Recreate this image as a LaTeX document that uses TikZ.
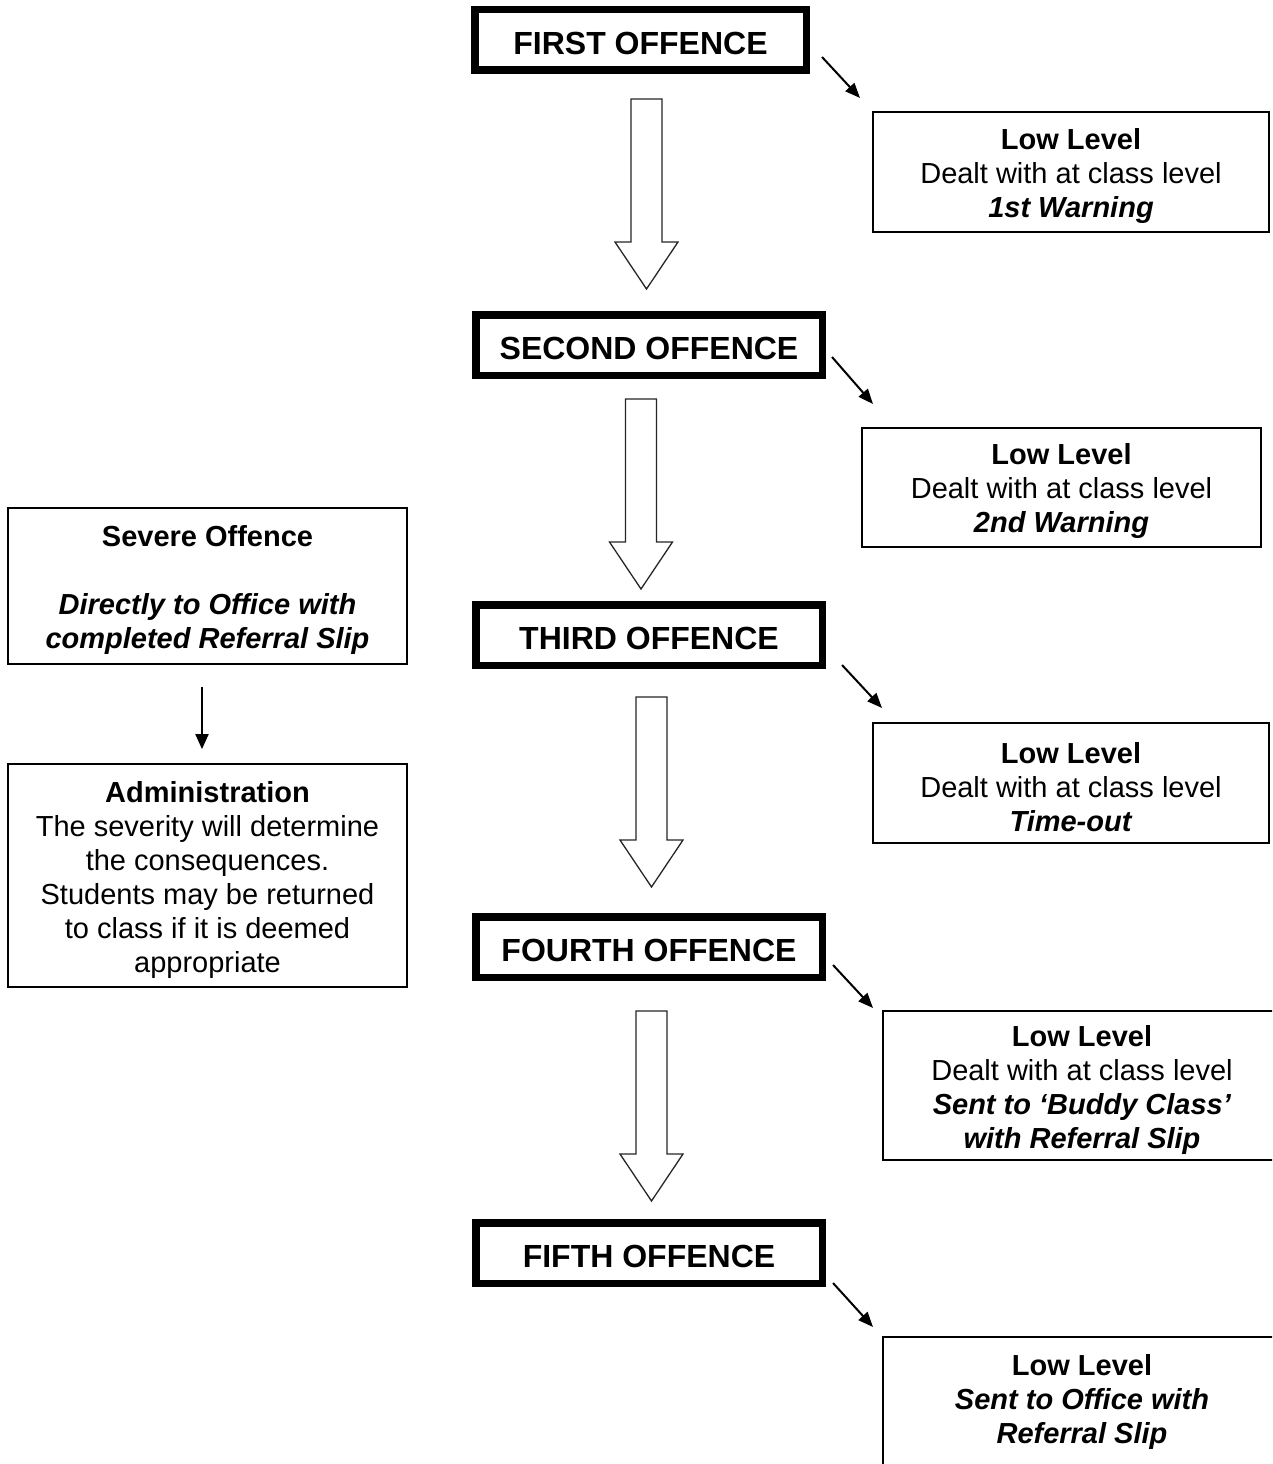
\documentclass[tikz,border=0pt]{standalone}
\usepackage{fontspec}
\setmainfont{Liberation Sans}
\usetikzlibrary{arrows.meta}
\newcommand{\firstlinestrut}{\rule{0pt}{29pt}}
\begin{document}
\begin{tikzpicture}[x=1pt,y=-1pt,
  offence/.style={draw, line width=7.5pt, inner sep=0pt, minimum height=60.5pt,
    minimum width=346.5pt, text height=29pt, text depth=0pt,
    font=\fontsize{32}{38}\selectfont\bfseries},
  infobox/.style={draw, line width=1.8pt, inner sep=0pt, align=center,
    font=\fontsize{29}{34}\selectfont},
  diag/.style={line width=2pt, -{Triangle[length=15pt,width=12pt]}},
  blockarrow/.pic={\draw[line width=1.3pt, draw=black!85, line join=miter]
    (-15.5,0) -- (15.5,0) -- (15.5,143) -- (31.5,143) -- (0,190)
    -- (-31.5,143) -- (-15.5,143) -- cycle;}
]
\useasboundingbox (0,0) rectangle (1272,1464);
\clip (0,0) rectangle (1272,1464);
\fill[white] (0,0) rectangle (1272,1464);

% offence boxes
\node[offence, minimum width=331.5pt] (first) at (640.5,40) {FIRST OFFENCE};
\node[offence] (second) at (649,345) {SECOND OFFENCE};
\node[offence] (third) at (649,635) {THIRD OFFENCE};
\node[offence] (fourth) at (649,947) {FOURTH OFFENCE};
\node[offence] (fifth) at (649,1253) {FIFTH OFFENCE};

% block arrows between offences
\pic at (646.5,99) {blockarrow};
\pic at (641,399) {blockarrow};
\pic at (651.5,697) {blockarrow};
\pic at (651.5,1011) {blockarrow};

% right boxes
\node[infobox, minimum width=396pt, minimum height=120pt] (r1) at (1071,172)
  {\firstlinestrut\textbf{Low Level}\\Dealt with at class level\\\textbf{\textit{1st Warning}}};
\node[infobox, minimum width=399pt, minimum height=119pt] (r2) at (1061.5,487.5)
  {\firstlinestrut\textbf{Low Level}\\Dealt with at class level\\\textbf{\textit{2nd Warning}}};
\node[infobox, minimum width=396pt, minimum height=120pt] (r3) at (1071,783)
  {\firstlinestrut\textbf{Low Level}\\Dealt with at class level\\\textbf{\textit{Time-out}}};
\node[infobox, minimum width=398pt, minimum height=149pt] (r4) at (1082,1085.5)
  {\firstlinestrut\textbf{Low Level}\\Dealt with at class level\\\textbf{\textit{Sent to ‘Buddy Class’}}\\\textbf{\textit{with Referral Slip}}};
\node[infobox, minimum width=398pt, minimum height=130pt] (r5) at (1082,1402)
  {\textbf{Low Level}\\\textbf{\textit{Sent to Office with}}\\\textbf{\textit{Referral Slip}}};

% left boxes
\node[infobox, minimum width=399pt, minimum height=156pt] (severe) at (207.5,586)
  {\firstlinestrut\textbf{Severe Offence}\\[34pt]\textbf{\textit{Directly to Office with}}\\\textbf{\textit{completed Referral Slip}}};
\node[infobox, minimum width=399pt, minimum height=223pt] (admin) at (207.5,875.5)
  {\firstlinestrut\textbf{Administration}\\The severity will determine\\the consequences.\\Students may be returned\\to class if it is deemed\\appropriate};

% diagonal arrows
\coordinate (d1a) at (822,57);  \coordinate (d1b) at (860,98);
\coordinate (d2a) at (832,357); \coordinate (d2b) at (873,404);
\coordinate (d3a) at (842,665); \coordinate (d3b) at (882,708);
\coordinate (d4a) at (833,965); \coordinate (d4b) at (873,1008);
\coordinate (d5a) at (833,1283); \coordinate (d5b) at (873,1327);
\draw[diag] (d1a) -- (d1b);
\draw[diag] (d2a) -- (d2b);
\draw[diag] (d3a) -- (d3b);
\draw[diag] (d4a) -- (d4b);
\draw[diag] (d5a) -- (d5b);

% severe -> administration
\draw[line width=2pt, -{Triangle[length=15pt,width=13pt]}, shorten <=22pt, shorten >=14pt]
  ([xshift=-5.5pt]severe.south) -- ([xshift=-5.5pt]admin.north);
\end{tikzpicture}
\end{document}
